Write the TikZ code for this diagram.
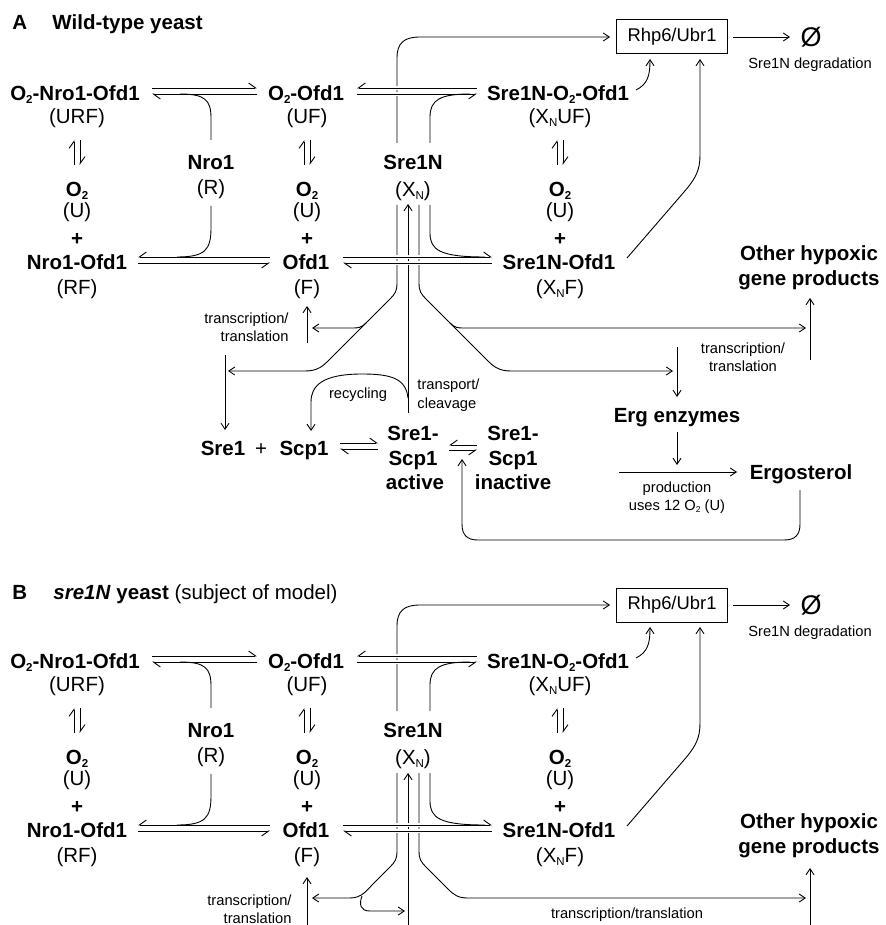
\documentclass[tikz,border=0pt]{standalone}
\usepackage{fontspec}
\setmainfont{Liberation Sans}
\usetikzlibrary{arrows.meta}
\newcommand\mysub[1]{\raisebox{-3.2pt}{\fontsize{11.5}{12}\selectfont #1}}
\newcommand\mysubs[1]{\raisebox{-2.2pt}{\fontsize{8.5}{9}\selectfont #1}}
\tikzset{
 big/.style={font=\bfseries\fontsize{20.5}{24}\selectfont, inner sep=0pt, text height=14.7pt, text depth=0pt},
 reg/.style={font=\fontsize{20.5}{24}\selectfont, inner sep=0pt, text height=14.7pt, text depth=0pt},
 small/.style={font=\fontsize{14.7}{17}\selectfont, inner sep=0pt, text height=10.5pt, text depth=0pt},
 arr/.style={-{Straight Barb[length=6pt,width=8pt]}},
 hpa/.style={-{Straight Barb[harpoon,length=7pt,width=10pt]}},
 hpb/.style={-{Straight Barb[harpoon,swap,length=7pt,width=10pt]}},
 wipe/.style={draw=white,line width=3.4pt},
 enzbox/.style={draw,line width=1pt,minimum width=111pt,minimum height=34pt,inner sep=0pt,font=\fontsize{18.4}{22}\selectfont},
}
\newcommand\commonpart{%
 % crossing line to Rhp6/Ubr1
 \draw[arr] (397,143) -- (397,58) .. controls (397,43) and (404,37) .. (420,37) -- ([xshift=-6pt]rhp.west);
 % wipes for crossings
 \draw[wipe] (357,88) -- (477,88); \draw[wipe] (357,94) -- (477,94);
 \draw[wipe] (343,257) -- (492,257); \draw[wipe] (343,263) -- (492,263);
 % equilibria
 \draw[hpa] (152,88) -- (257,88); \draw[hpa] (257,94) -- (152,94);
 \draw[hpb] (477,88) -- (357,88); \draw[hpb] (357,94) -- (477,94);
 \draw[hpb] (270,257) -- (138,257); \draw[hpb] (138,263) -- (270,263);
 \draw[hpa] (343,257) -- (492,257); \draw[hpa] (492,263) -- (343,263);
 \foreach \xx in {77,307,560}{
  \draw[hpa] (\xx-3,165) -- (\xx-3,140);
  \draw[hpa] (\xx+3,140) -- (\xx+3,165);
 }
 % merging curves
 \draw (211,140) -- (211,118) .. controls (211,100) and (205,94) .. (180,94);
 \draw (211,206) -- (211,228) .. controls (211,250) and (205,257) .. (177,257);
 \draw (430,143) -- (430,117) .. controls (430,100) and (440,94) .. (470,94);
 \draw (430,205) -- (430,233) .. controls (430,250) and (440,257) .. (485,257);
 % to degradation
 \draw[arr] (636,90) .. controls (648,84) and (650,75) .. (650,59);
 \draw[arr] (627,258) -- (684,192) .. controls (696,178) and (700,170) .. (700,155) -- (700,59);
 \draw[arr] (rhp.east) ++(5,0) -- (790,37);
}
\newcommand\commonnodes{%
 \node[enzbox] (rhp) at (672,37) {Rhp6/Ubr1};
 \node[font=\fontsize{27}{30}\selectfont, inner sep=0pt] (null) at (811,37) {Ø};
 \node[small] (deg) at (810,63) {Sre1N degradation};
 \node[big] (URF) at (75,93) {O\mysub{2}-Nro1-Ofd1};
 \node[reg] (URFl) at (77,116) {(URF)};
 \node[big] (U1) at (77,189) {O\mysub{2}};
 \node[reg] (U1l) at (77,210) {(U)};
 \node[big] (p1) at (77,238) {+};
 \node[big] (RF) at (77,262) {Nro1-Ofd1};
 \node[reg] (RFl) at (77,287) {(RF)};
 \node[big] (R) at (211,162) {Nro1};
 \node[reg] (Rl) at (211,187) {(R)};
 \node[big] (UF) at (306,93) {O\mysub{2}-Ofd1};
 \node[reg] (UFl) at (307,116) {(UF)};
 \node[big] (U2) at (307,189) {O\mysub{2}};
 \node[reg] (U2l) at (307,210) {(U)};
 \node[big] (p2) at (307,238) {+};
 \node[big] (F) at (306,262) {Ofd1};
 \node[reg] (Fl) at (307,287) {(F)};
 \node[big] (XN) at (413,162) {Sre1N};
 \node[reg] (XNl) at (413,189) {(X\mysub{N})};
 \node[big] (XNUF) at (558,93) {Sre1N-O\mysub{2}-Ofd1};
 \node[reg] (XNUFl) at (560,116) {(X\mysub{N}UF)};
 \node[big] (U3) at (560,189) {O\mysub{2}};
 \node[reg] (U3l) at (560,210) {(U)};
 \node[big] (p3) at (560,238) {+};
 \node[big] (XNF) at (559,262) {Sre1N-Ofd1};
 \node[reg] (XNFl) at (560,287) {(X\mysub{N}F)};
 \node[big] (oth1) at (809,253) {Other hypoxic};
 \node[big] (oth2) at (809,278) {gene products};
}
\begin{document}
\begin{tikzpicture}[x=1pt,y=-1pt,line width=0.9pt]
\useasboundingbox (0,0) rectangle (885,925);
% ---------------- Panel A
\node[big,anchor=west] (tA) at (12,22) {A};
\node[big,anchor=west] (tA2) at (52,22) {Wild-type yeast};
\begin{scope}[name prefix=A-]
 \commonnodes
 % vertical lines crossing the F row
 \draw[arr] (397,205) -- (397,283) .. controls (397,291) and (395,294) .. (390,299) -- (330,359) .. controls (323,366) and (318,371) .. (305,371) -- (228,371);
 \draw[arr] (408,413) -- (408,204);
 \draw[arr] (419,205) -- (419,283) .. controls (419,291) and (421,294) .. (426,299) -- (486,359) .. controls (493,366) and (498,371) .. (511,371) -- (673,371);
 \commonpart
 \draw[arr] (366,323) .. controls (361,328) and (358,328) .. (352,328) -- (312,328);
 \draw[arr] (450,323) .. controls (455,328) and (458,328) .. (464,328) -- (806,328);
 \draw[arr] (307,343) -- (307,306);
 \node[small,anchor=east] (tt1) at (289,318) {transcription/};
 \node[small,anchor=east] (tt2) at (289,336) {translation};
 \draw[arr] (225,355) -- (225,430);
 \node[big] (Sre1) at (223,448) {Sre1};
 \node[reg] (plus) at (261,448) {+};
 \node[big] (Scp1) at (304,448) {Scp1};
 \draw[arr] (408,398) .. controls (406,378) and (390,374) .. (362,374) .. controls (322,374) and (311,386) .. (311,402) -- (311,431);
 \node[small] (rec) at (358,393) {recycling};
 \node[small,anchor=west] (tc1) at (417,384) {transport/};
 \node[small,anchor=west] (tc2) at (417,403) {cleavage};
 \draw[hpa] (340,443) -- (378,443); \draw[hpa] (378,449) -- (340,449);
 \node[big] (act1) at (413,433) {Sre1-};
 \node[big] (act2) at (413,458) {Scp1};
 \node[big] (act3) at (415,482) {active};
 \draw[hpb] (477,445) -- (449,445); \draw[hpb] (449,450) -- (477,450);
 \node[big] (ina1) at (513,433) {Sre1-};
 \node[big] (ina2) at (513,458) {Scp1};
 \node[big] (ina3) at (513,482) {inactive};
 \node[small] (tr1) at (743,348) {transcription/};
 \node[small] (tr2) at (743,366) {translation};
 \draw[arr] (677,347) -- (677,397);
 \node[big] (erg) at (677,415) {Erg enzymes};
 \draw[arr] (677,432) -- (677,465);
 \draw[arr] (619,472) -- (737,472);
 \node[big] (ergo) at (801,472) {Ergosterol};
 \node[small] (pr1) at (677,487) {production};
 \node[small] (pr2) at (677,505) {uses 12 O\mysubs{2} (U)};
 \draw[arr] (810,360) -- (810,298);
 \draw[arr] (800,490) -- (800,524) .. controls (800,535) and (795,540) .. (784,540) -- (478,540) .. controls (467,540) and (462,535) .. (462,524) -- (462,459);
\end{scope}
% ---------------- Panel B
\node[big,anchor=west] (tB) at (12,592) {B};
\node[big,anchor=west] (tB2) at (53,592) {\textit{sre1N} yeast \mdseries(subject of model)};
\begin{scope}[yshift=-568pt,name prefix=B-]
 \commonnodes
 \draw[arr] (397,205) -- (397,283) .. controls (397,291) and (395,294) .. (390,299) -- (373,316) .. controls (367,322) and (362,330) .. (350,330) -- (312,330);
 \draw[arr] (408,357) -- (408,205);
 \draw[arr] (419,205) -- (419,283) .. controls (419,291) and (421,294) .. (426,299) -- (448,321) .. controls (454,327) and (458,330) .. (468,330) -- (806,330);
 \commonpart
 \draw[arr] (362,328) .. controls (359,336) and (360,343) .. (370,343) -- (405,343);
 \draw[arr] (307,357) -- (307,309);
 \node[small,anchor=east] (tt1) at (292,332) {transcription/};
 \node[small,anchor=east] (tt2) at (292,350) {translation};
 \draw[arr] (810,357) -- (810,300);
 \node[small] (tr) at (627,345) {transcription/translation};
\end{scope}
\end{tikzpicture}
\end{document}
